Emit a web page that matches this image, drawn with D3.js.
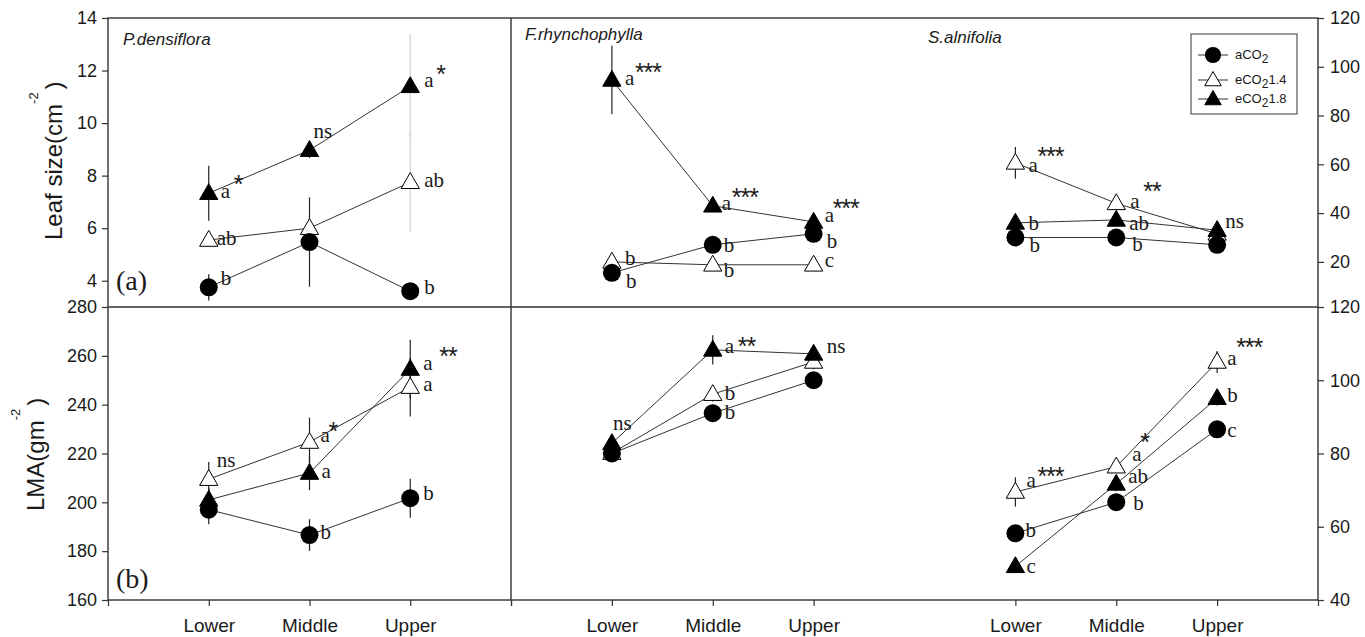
<!DOCTYPE html>
<html>
<head>
<meta charset="utf-8">
<script src="https://cdn.jsdelivr.net/npm/d3@7"></script>
<style>
body { margin: 0; background: #fff; }
svg { display: block; }
</style>
</head>
<body>
<script>
// ---- data (rows: aCO2, eCO2 1.4, eCO2 1.8 ; columns: Lower, Middle, Upper) ----
var levels = ['Lower', 'Middle', 'Upper'];
var species = ['P.densiflora', 'F.rhynchophylla', 'S.alnifolia'];

// leaf size
var leafPd = [[3.75, 5.47, 3.6], [5.55, 6.0, 7.75], [7.33, 8.97, 11.4]];
var leafPdSe = [[0.5, 1.7, 0], [0.2, 0.3, 1.9], [1.05, 0.3, 2.0]];
var leafFr = [[15.5, 27, 31.5], [20, 18.8, 18.8], [94.6, 43, 36.4]];
var leafFrSe = [[1, 1, 1], [1, 1, 1], [14, 1.5, 1]];
var leafSa = [[30, 30, 27], [60.6, 44, 31.5], [36, 37.2, 33]];
var leafSaSe = [[1, 1, 1], [6.5, 2, 1], [1, 1, 1]];

// LMA
var lmaPd = [[197, 186.6, 201.7], [209.5, 224.7, 247.2], [201, 212, 254.6]];
var lmaPdSe = [[6, 6.5, 8], [7, 10, 12], [5, 7, 12]];
var lmaFr = [[80, 91, 100], [80.1, 96.2, 105], [82.8, 108.3, 107.2]];
var lmaFrSe = [[1, 2, 1], [1, 2, 2], [1, 4, 2]];
var lmaSa = [[58.2, 66.7, 86.6], [69.5, 76.4, 105], [49.2, 71.7, 95.1]];
var lmaSaSe = [[1, 1, 1], [4, 1, 3], [1, 2, 2]];

// significance letters and stars
var leafPdLetters = [['b', '', 'b'], ['ab', '', 'ab'], ['a', 'ns', 'a']];
var leafPdStars = [['', '', ''], ['', '', ''], ['*', '', '*']];
var leafFrLetters = [['b', 'b', 'b'], ['b', 'b', 'c'], ['a', 'a', 'a']];
var leafFrStars = [['', '', ''], ['', '', ''], ['***', '***', '***']];
var leafSaLetters = [['b', 'b', ''], ['a', 'a', 'ns'], ['b', 'ab', '']];
var leafSaStars = [['', '', ''], ['***', '**', ''], ['', '', '']];
var lmaPdLetters = [['', 'b', 'b'], ['ns', 'a', 'a'], ['', 'a', 'a']];
var lmaPdStars = [['', '', ''], ['', '*', ''], ['', '', '**']];
var lmaFrLetters = [['', 'b', ''], ['', 'b', ''], ['ns', 'a', 'ns']];
var lmaFrStars = [['', '', ''], ['', '', ''], ['', '**', '']];
var lmaSaLetters = [['b', 'b', 'c'], ['a', 'a', 'a'], ['c', 'ab', 'b']];
var lmaSaStars = [['', '', ''], ['***', '*', '***'], ['', '', '']];

var leafTicksL = [4, 6, 8, 10, 12, 14];
var leafTicksR = [20, 40, 60, 80, 100, 120];
var lmaTicksL = [160, 180, 200, 220, 240, 260, 280];
var lmaTicksR = [40, 60, 80, 100, 120];

// ---- label placement: [dx, dy, starDx, starDy] from the marker ----
var leafPdPlace = [[[12, -2], null, [14, 3]], [[8, 5], null, [14, 5]], [[12, 5, 13, -5], [4, -12], [14, 1, 12, -4]]];
var leafFrPlace = [[[14, 15], [11, 7], [13, 14]], [[13, 3], [11, 12], [11, 2]], [[13, 5, 10, -4], [9, 4, 10, -4], [11, 0, 8, -5]]];
var leafSaPlace = [[[14, 15], [16, 14], null], [[13, 9, 9, -7], [14, 5, 13, -8], [8, -6]], [[13, 7], [13, 10], null]];
var lmaPdPlace = [[null, [11, 4], [13, 2]], [[8, -12], [11, 0, 8, -2], [13, 4]], [null, [12, 5], [13, 1, 16, -5]]];
var lmaFrPlace = [[null, [12, 6], null], [null, [12, 6], null], [[1, -13], [12, 3, 13, 2], [13, -1]]];
var lmaSaPlace = [[[10, 4], [17, 8], [10, 8]], [[11, -5, 11, -2], [16, -6, 8, -10], [10, 3, 9, -9]], [[11, 7], [12, -1], [10, 4]]];

var width = 1365, height = 637;
var sans = '"Liberation Sans", Arial, sans-serif';
var serif = '"Liberation Serif", "Times New Roman", serif';
var ink = '#1a1a1a';

var svg = d3.select('body').append('svg')
    .attr('width', width)
    .attr('height', height);

// scales
var xLeft = d3.scaleLinear().domain([0, 4]).range([108, 511]);
var xRight = d3.scaleLinear().domain([0, 8]).range([511, 1318]);
var yLeafL = d3.scaleLinear().domain([3, 14]).range([307, 18]);
var yLeafR = d3.scaleLinear().domain([1.5, 120]).range([307, 18]);
var yLmaL = d3.scaleLinear().domain([160, 280]).range([600, 307]);
var yLmaR = d3.scaleLinear().domain([40, 120]).range([600, 307]);

var groups = [
    {x: xLeft, at: [1, 2, 3], y: yLeafL, mean: leafPd, se: leafPdSe, letters: leafPdLetters, stars: leafPdStars, place: leafPdPlace, faint: ['1,2', '2,2']},
    {x: xRight, at: [1, 2, 3], y: yLeafR, mean: leafFr, se: leafFrSe, letters: leafFrLetters, stars: leafFrStars, place: leafFrPlace, faint: []},
    {x: xRight, at: [5, 6, 7], y: yLeafR, mean: leafSa, se: leafSaSe, letters: leafSaLetters, stars: leafSaStars, place: leafSaPlace, faint: []},
    {x: xLeft, at: [1, 2, 3], y: yLmaL, mean: lmaPd, se: lmaPdSe, letters: lmaPdLetters, stars: lmaPdStars, place: lmaPdPlace, faint: []},
    {x: xRight, at: [1, 2, 3], y: yLmaR, mean: lmaFr, se: lmaFrSe, letters: lmaFrLetters, stars: lmaFrStars, place: lmaFrPlace, faint: []},
    {x: xRight, at: [5, 6, 7], y: yLmaR, mean: lmaSa, se: lmaSaSe, letters: lmaSaLetters, stars: lmaSaStars, place: lmaSaPlace, faint: []}
];

// frame
var frame = svg.append('g').attr('stroke', '#333').attr('stroke-width', 1.4).attr('fill', 'none');
frame.append('rect').attr('x', 108).attr('y', 18).attr('width', 1210).attr('height', 582);
frame.append('line').attr('x1', 108).attr('x2', 1318).attr('y1', 307).attr('y2', 307);
frame.append('line').attr('x1', 511).attr('x2', 511).attr('y1', 18).attr('y2', 600);

// axes
function styleAxis(g, size) {
    g.select('.domain').remove();
    g.selectAll('.tick line').attr('stroke', '#333').attr('stroke-width', 1.2);
    g.selectAll('.tick text').attr('fill', ink).style('font-family', sans).style('font-size', size + 'px');
}
svg.append('g').attr('transform', 'translate(108,0)')
    .call(d3.axisLeft(yLeafL).tickValues(leafTicksL).tickSize(6).tickPadding(5))
    .call(styleAxis, 18);
svg.append('g').attr('transform', 'translate(108,0)')
    .call(d3.axisLeft(yLmaL).tickValues(lmaTicksL).tickSize(6).tickPadding(5))
    .call(styleAxis, 18);
svg.append('g').attr('transform', 'translate(1318,0)')
    .call(d3.axisRight(yLeafR).tickValues(leafTicksR).tickSize(6).tickPadding(6))
    .call(styleAxis, 18);
svg.append('g').attr('transform', 'translate(1318,0)')
    .call(d3.axisRight(yLmaR).tickValues(lmaTicksR).tickSize(6).tickPadding(6))
    .call(styleAxis, 18);
svg.append('g').attr('transform', 'translate(0,600)')
    .call(d3.axisBottom(xLeft).tickValues([0, 1, 2, 3, 4]).tickSize(6).tickPadding(13)
        .tickFormat(function(d) { return levels[d - 1] || ''; }))
    .call(styleAxis, 19);
svg.append('g').attr('transform', 'translate(0,600)')
    .call(d3.axisBottom(xRight).tickValues([0, 1, 2, 3, 5, 6, 7, 8]).tickSize(6).tickPadding(13)
        .tickFormat(function(d) { return levels[d > 4 ? d - 5 : d - 1] || ''; }))
    .call(styleAxis, 19);

// marker drawing: 0 = filled circle, 1 = open triangle, 2 = filled triangle
function marker(sel, s, cx, cy, scale) {
    var k = scale || 1;
    if (s === 0) {
        sel.append('circle').attr('cx', cx).attr('cy', cy).attr('r', 9 * k).attr('fill', '#000');
    } else {
        sel.append('path')
            .attr('d', d3.symbol(d3.symbolTriangle, 145 * k * k)())
            .attr('transform', 'translate(' + cx + ',' + (cy + 1) + ')')
            .attr('fill', s === 1 ? '#fff' : '#000')
            .attr('stroke', '#000')
            .attr('stroke-width', 1);
    }
}

var line = d3.line();
var drawOrder = [1, 2, 0];

groups.forEach(function(g) {
    var px = function(i) { return g.x(g.at[i]); };

    // connecting lines
    g.mean.forEach(function(row) {
        svg.append('path')
            .attr('d', line(row.map(function(v, i) { return [px(i), g.y(v)]; })))
            .attr('fill', 'none').attr('stroke', '#333').attr('stroke-width', 1);
    });

    // error bars
    g.mean.forEach(function(row, s) {
        row.forEach(function(v, i) {
            var e = g.se[s][i];
            if (!e) return;
            svg.append('line')
                .attr('x1', px(i)).attr('x2', px(i))
                .attr('y1', g.y(v - e)).attr('y2', g.y(v + e))
                .attr('stroke', g.faint.indexOf(s + ',' + i) >= 0 ? '#d0d0d0' : '#222')
                .attr('stroke-width', 1.2);
        });
    });

    // markers
    drawOrder.forEach(function(s) {
        g.mean[s].forEach(function(v, i) {
            marker(svg, s, px(i), g.y(v));
        });
    });

    // letters and stars
    g.mean.forEach(function(row, s) {
        row.forEach(function(v, i) {
            var p = g.place[s][i];
            if (!p) return;
            var tx = px(i) + p[0], ty = g.y(v) + p[1];
            if (g.letters[s][i]) {
                svg.append('text').attr('x', tx).attr('y', ty)
                    .style('font-family', serif).style('font-size', '21px').attr('fill', ink)
                    .text(g.letters[s][i]);
            }
            if (g.stars[s][i]) {
                svg.append('text').attr('x', tx + p[2]).attr('y', ty + p[3])
                    .style('font-family', sans).style('font-size', '25px').attr('fill', ink)
                    .style('letter-spacing', '-1px')
                    .text(g.stars[s][i]);
            }
        });
    });
});

// species names
var speciesX = [123, 525, 928], speciesY = [45, 40, 43];
species.forEach(function(sp, i) {
    svg.append('text').attr('x', speciesX[i]).attr('y', speciesY[i])
        .style('font-family', sans).style('font-size', '17px').style('font-style', 'italic')
        .attr('fill', ink).text(sp);
});

// panel tags
svg.append('text').attr('x', 116).attr('y', 290).style('font-family', serif).style('font-size', '28px').attr('fill', ink).text('(a)');
svg.append('text').attr('x', 116).attr('y', 588).style('font-family', serif).style('font-size', '28px').attr('fill', ink).text('(b)');

// y axis titles
function yTitle(x, y, main) {
    var t = svg.append('text')
        .attr('transform', 'translate(' + x + ',' + y + ') rotate(-90)')
        .style('font-family', sans).style('font-size', '24px').attr('fill', ink);
    t.append('tspan').text(main);
    t.append('tspan').attr('dy', -24).style('font-size', '13px').text('-2');
    t.append('tspan').attr('dy', 24).attr('dx', 3).text(')');
}
yTitle(62, 240, 'Leaf size(cm');
yTitle(44, 511, 'LMA(gm');

// legend
var legendNames = ['aCO', 'eCO', 'eCO'];
var legendTails = ['', '1.4', '1.8'];
var legend = svg.append('g');
legend.append('rect').attr('x', 1191).attr('y', 34).attr('width', 106).attr('height', 80)
    .attr('fill', '#fff').attr('stroke', '#555').attr('stroke-width', 1.2);
[55, 80, 99].forEach(function(ly, s) {
    legend.append('line').attr('x1', 1198).attr('x2', 1228).attr('y1', ly).attr('y2', ly)
        .attr('stroke', '#333').attr('stroke-width', 1);
    marker(legend, s, 1213, ly, 0.9);
    var t = legend.append('text').attr('x', 1235).attr('y', ly + 4)
        .style('font-family', sans).style('font-size', '13px').attr('fill', ink);
    t.append('tspan').text(legendNames[s]);
    t.append('tspan').attr('dy', 4).style('font-size', '12px').text('2');
    t.append('tspan').attr('dy', -4).text(legendTails[s]);
});
</script>
</body>
</html>
